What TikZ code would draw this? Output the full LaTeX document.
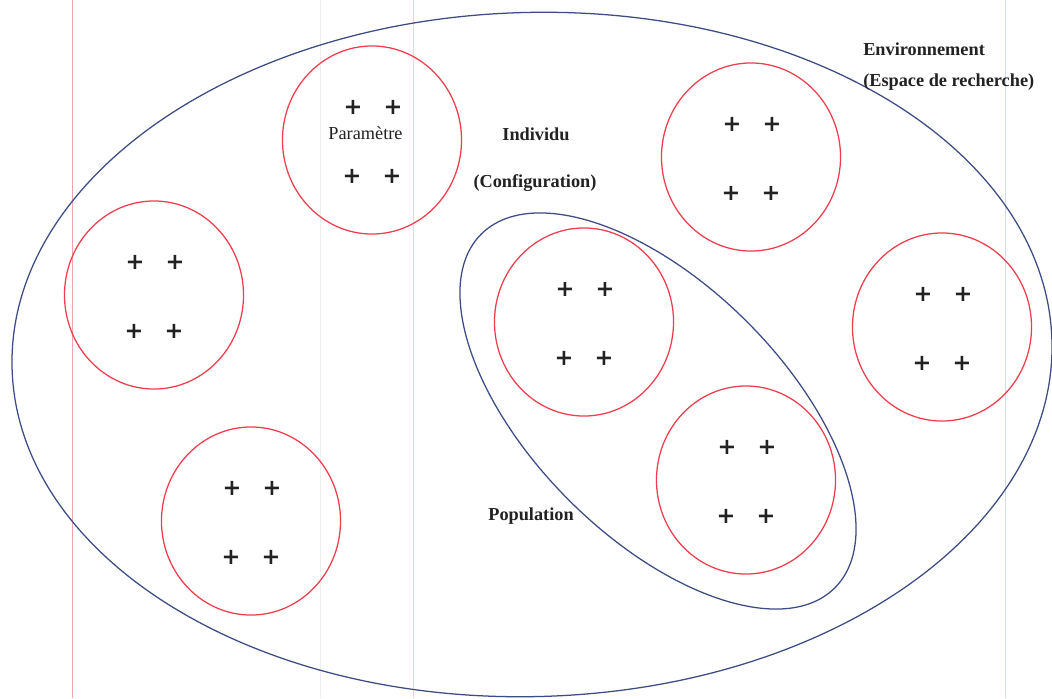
\documentclass[tikz,border=0pt]{standalone}
\usepackage{fontspec}
\setmainfont{Liberation Serif}
\newfontfamily\plusfont{DejaVu Sans}
\usetikzlibrary{shapes.geometric}
\definecolor{ringred}{HTML}{EE3E4E}
\definecolor{setblue}{HTML}{3E4C84}
\definecolor{inkdark}{HTML}{222222}
\definecolor{rulepink}{HTML}{F0A4AC}
\definecolor{rulepale}{HTML}{F2D2D2}
\definecolor{rulegrey}{HTML}{EDEDED}
\definecolor{ruleblue}{HTML}{D2DAEE}
\begin{document}
\begin{tikzpicture}[x=0.025cm,y=-0.025cm,
  indiv/.style={draw=ringred, line width=0.9pt, ellipse, minimum width=4.475cm, minimum height=4.7cm, inner sep=0pt},
  setring/.style={draw=setblue, line width=0.9pt, ellipse, inner sep=0pt},
  gene/.style={font=\plusfont\bfseries\fontsize{16}{16}\selectfont, text=inkdark, inner sep=0pt},
  lbl/.style={font=\bfseries\fontsize{13}{15}\selectfont, text=inkdark, inner sep=0pt},
  guideline/.style={line width=0.5pt}
]
\useasboundingbox (0,0) rectangle (1052,698);
\fill[white] (0,0) rectangle (1052,698);

% page rules running through the sheet
\coordinate (r1t) at (72,0);    \coordinate (r1b) at (72,698);
\coordinate (r2t) at (320,0);   \coordinate (r2b) at (320,698);
\coordinate (r3t) at (413,0);   \coordinate (r3b) at (413,698);
\coordinate (r4t) at (1005,0);  \coordinate (r4b) at (1005,698);
\draw[guideline, rulepink] (r1t) -- (r1b);
\draw[guideline, rulegrey] (r2t) -- (r2b);
\draw[guideline, rulepale] (r3t) -- (r3b);
\draw[guideline, ruleblue] (r4t) -- (r4b);

% search space
\node[setring, rotate=1.5, minimum width=26.0cm, minimum height=17.1cm] (env) at (532,354.5) {};

% population
\node[setring, rotate=-45, minimum width=12.5cm, minimum height=6.3cm] (pop) at (658,411) {};

% individuals, each with four parameters
\foreach \n/\cx/\cy in {p/372/140, a/751/157, b/942/327, c/154/295, d/251/521, e/584/322, f/746/480}{
  \node[indiv] (ind\n) at (\cx,\cy) {};
  \node[gene] (\n1) at (\cx-19,\cy-33) {+};
  \node[gene] (\n2) at (\cx+21,\cy-33) {+};
  \node[gene] (\n3) at (\cx-20,\cy+36) {+};
  \node[gene] (\n4) at (\cx+20,\cy+36) {+};
}

% labels
\node[font=\fontsize{13}{15}\selectfont, text=inkdark, inner sep=0pt, anchor=base] (param) at (365.5,139) {Paramètre};
\node[lbl, anchor=base] (indl) at (536,140) {Individu};
\node[lbl, anchor=base] (confl) at (535,187) {(Configuration)};
\node[lbl, anchor=base] (popl) at (531,520) {Population};
\node[lbl, anchor=base west] (envl) at (863,55) {Environnement};
\node[lbl, anchor=base west] (espl) at (863,86) {(Espace de recherche)};
\end{tikzpicture}
\end{document}
